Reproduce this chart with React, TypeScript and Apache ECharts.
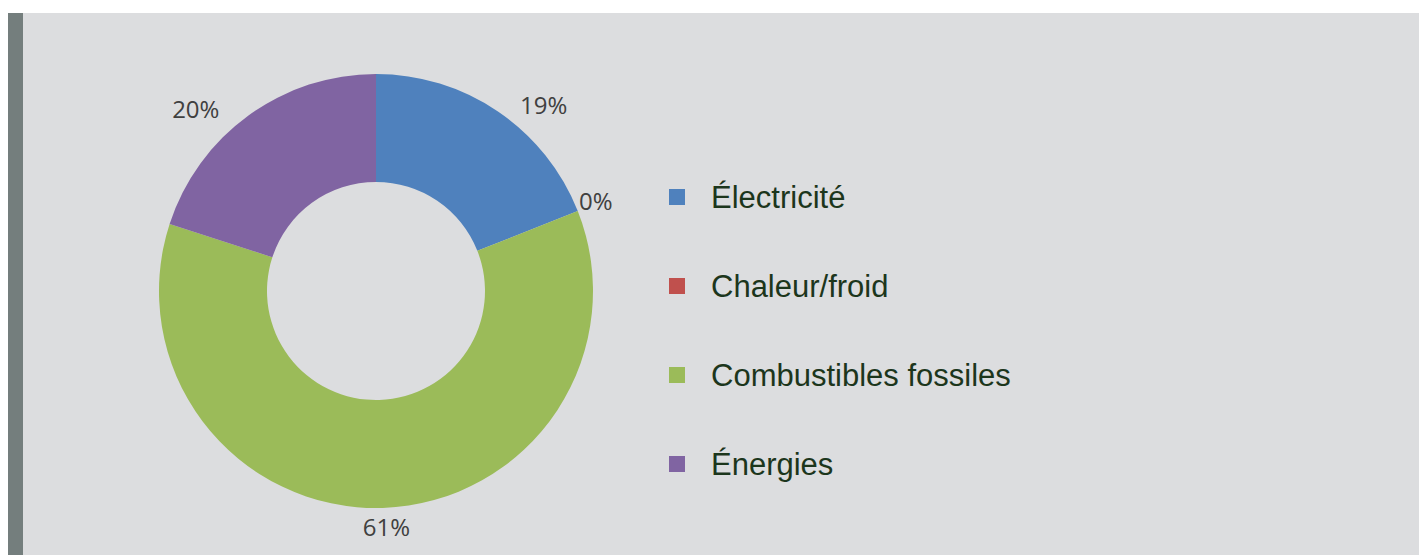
import React, { useEffect, useRef } from "react";
import * as echarts from "echarts";

const categories = ["Électricité", "Chaleur/froid", "Combustibles fossiles", "Énergies"];
const values = [19, 0, 61, 20];
const colors = ["#4F81BD", "#C0504D", "#9BBB59", "#8064A2"];

const CHART_W = 1411;
const CHART_H = 542;
const CX = 368;
const CY = 278;
const R_IN = 109;
const R_OUT = 217;

export default function App() {
  const ref = useRef<HTMLDivElement>(null);

  useEffect(() => {
    if (!ref.current) return;
    const chart = echarts.init(ref.current, undefined, { renderer: "svg" });
    const total = values.reduce((a, b) => a + b, 0);

    const labelLayout = (params: any) => {
      const i = params.dataIndex;
      let before = 0;
      for (let k = 0; k < i; k++) before += values[k];
      const mid = ((before + values[i] / 2) / total) * Math.PI * 2;
      const s = Math.sin(mid);
      const c = Math.cos(mid);
      const rr = R_OUT + 6;
      const ax = CX + s * rr;
      const ay = CY - c * rr;
      const hw = params.labelRect.width / 2;
      const hh = params.labelRect.height / 2;
      const blend = Math.min(1, Math.abs(s) * 2);
      const side = s < 0 ? 8 : 0;
      const x = ax + Math.sign(s) * blend * (hw + 32 * c * c - 10 * s * s + side);
      const y = ay + (c < 0 ? -c * (hh + 1) : -4 + 6 * c * c - 6 * s * s);
      return { x, y, align: "center", verticalAlign: "middle" };
    };

    chart.setOption({
      animation: false,
      backgroundColor: "#DCDDDF",
      graphic: [
        {
          type: "rect",
          shape: { x: 0, y: 0, width: 15, height: CHART_H },
          style: { fill: "#747E7D" },
          silent: true,
        },
      ],
      legend: {
        orient: "vertical",
        left: 661,
        top: 164,
        padding: 0,
        itemWidth: 16,
        itemHeight: 16,
        itemGap: 49,
        icon: "rect",
        selectedMode: false,
        data: categories,
        textStyle: {
          fontFamily: "'Liberation Sans', Arial, sans-serif",
          fontSize: 31,
          lineHeight: 36,
          color: "#1C361C",
          padding: [4, 0, 0, 21],
        },
      },
      series: [
        {
          type: "pie",
          center: [CX, CY],
          radius: [R_IN, R_OUT],
          startAngle: 90,
          clockwise: true,
          avoidLabelOverlap: false,
          silent: true,
          color: colors,
          label: {
            show: true,
            position: "outside",
            fontFamily: "'Open Sans', sans-serif",
            fontSize: 24,
            color: "#404040",
            formatter: (p: any) => Math.round(p.percent) + "%",
          },
          labelLine: { show: false, length: 6, length2: 0 },
          labelLayout,
          data: categories.map((name, i) => ({ name, value: values[i] })),
        },
      ],
    });

    return () => chart.dispose();
  }, []);

  return (
    <div
      style={{
        position: "fixed",
        left: 0,
        top: 0,
        width: 1419,
        height: 555,
        background: "#FFFFFF",
        overflow: "hidden",
      }}
    >
      <div
        ref={ref}
        style={{ position: "absolute", left: 8, top: 13, width: CHART_W, height: CHART_H }}
      />
    </div>
  );
}
